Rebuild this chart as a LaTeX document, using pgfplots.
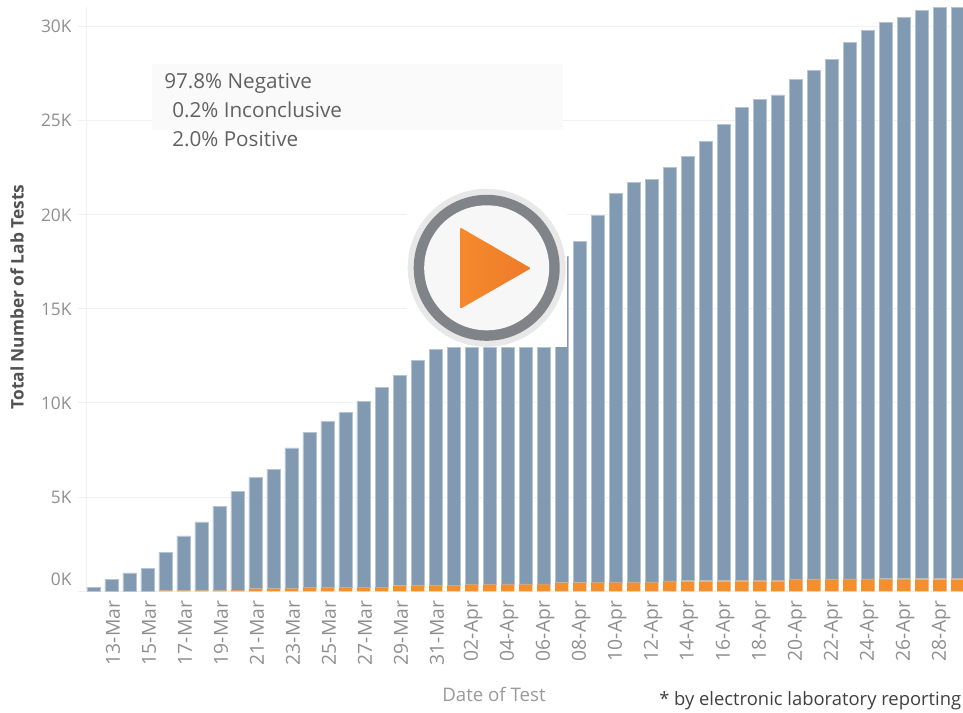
\documentclass[border=0pt]{standalone}
\usepackage{fontspec}
\usepackage{pgfplots}
\usepackage{pgfplotstable}
\pgfplotsset{compat=1.18}
\setmainfont{Open Sans}
\definecolor{neg}{HTML}{829AB1}
\definecolor{negedge}{HTML}{B4C4D2}
\definecolor{pos}{HTML}{F48F2E}
\definecolor{inc}{HTML}{C9AE8E}
\definecolor{gridc}{HTML}{F1F1F1}
\definecolor{tickc}{HTML}{8F8F8F}
\definecolor{halo}{HTML}{E8E8E8}
\definecolor{ring}{HTML}{808489}
\definecolor{disc}{HTML}{F7F7F7}
\definecolor{triA}{HTML}{F58A2C}
\definecolor{triB}{HTML}{EE7A2B}
\definecolor{boxc}{HTML}{FAFAFA}
% day: 0 = 12-Mar ... 48 = 29-Apr. 01..06-Apr are hidden above the overlay: the visible height is used.
\pgfplotstableread{
day pos inc neg
0 0 0 228
1 0 0 637
2 0 0 972
3 0 0 1205
4 35 15 2005
5 35 15 2888
6 40 15 3625
7 40 15 4442
8 50 15 5245
9 125 15 5910
10 130 15 6315
11 140 15 7455
12 190 20 8215
13 195 20 8795
14 195 20 9275
15 200 20 9850
16 200 25 10590
17 280 25 11145
18 285 25 11955
19 290 30 12515
20 295 30 12635
21 355 30 12575
22 355 30 12575
23 360 30 12570
24 360 30 12570
25 365 30 12565
26 440 35 17315
27 440 35 18095
28 445 40 19480
29 445 40 20635
30 450 45 21205
31 455 45 21360
32 510 45 21945
33 515 50 22515
34 515 50 23330
35 520 50 24230
36 525 50 25125
37 525 55 25530
38 530 55 25765
39 595 55 26520
40 600 55 27010
41 600 60 27570
42 605 60 28470
43 605 60 29125
44 610 60 29530
45 610 60 29795
46 615 60 30175
47 615 60 30325
48 620 60 30320
}\tests
\begin{document}
\begin{tikzpicture}[x=0.75pt,y=-0.75pt]
\useasboundingbox (0,0) rectangle (963,713);
\clip (0,0) rectangle (963,713);
\begin{axis}[
  at={(64.5pt,-443.475pt)}, anchor=south west,
  scale only axis, width=657.75pt, height=438.2pt,
  xmin=-0.428, xmax=48.29, ymin=0, ymax=31010,
  ybar stacked, bar width=10.1pt,
  axis x line=bottom, axis y line=left,
  axis line style={draw=gridc,line width=0.75pt,-},
  ytick={0,5000,10000,15000,20000,25000,30000},
  yticklabels={\smash{\raisebox{4.5pt}{0K}},5K,10K,15K,20K,25K,30K},
  xtick={1,3,...,47},
  xticklabels={13-Mar,15-Mar,17-Mar,19-Mar,21-Mar,23-Mar,25-Mar,27-Mar,29-Mar,31-Mar,02-Apr,04-Apr,06-Apr,08-Apr,10-Apr,12-Apr,14-Apr,16-Apr,18-Apr,20-Apr,22-Apr,24-Apr,26-Apr,28-Apr},
  ymajorgrids, grid style={draw=gridc,line width=0.75pt},
  y tick style={draw=gridc,line width=0.75pt},
  x tick style={draw=none},
  major tick length=6pt,
  tick align=outside,
  every tick label/.append style={text=tickc},
  xticklabel style={font=\fontsize{14.5pt}{16pt}\selectfont,rotate=90,anchor=east,inner sep=0pt,yshift=-1pt,xshift=-1pt},
  yticklabel style={font=\fontsize{13pt}{15pt}\selectfont,anchor=east,inner sep=0pt,xshift=-4.7pt,yshift=-0.4pt},
]
\addplot[draw=none,fill=pos] table[x=day,y=pos]{\tests};
\addplot[draw=none,fill=inc] table[x=day,y=inc]{\tests};
\addplot[draw=negedge,line width=0.3pt,fill=neg] table[x=day,y=neg]{\tests};
\end{axis}
% overlay
\fill[white] (407,205) rectangle (566.5,347.3);
\fill[boxc] (152,64) rectangle (563,130);
\fill[halo] (486.7,267.8) circle[radius=79];
\fill[ring] (486.7,267.8) circle[radius=73];
\fill[disc] (486.7,267.8) circle[radius=62.5];
\shade[left color=triA,right color=triB,rounded corners=1pt] (460,227.3) -- (531,268.3) -- (460,309) -- cycle;
\begin{scope}[every node/.style={inner sep=0pt,text=black!62,font=\fontsize{15.5pt}{17pt}\selectfont,anchor=base west}]
\node at (164,88.5) {97.8\% Negative};
\node at (172,117.5) {0.2\% Inconclusive};
\node at (172,146.5) {2.0\% Positive};
\end{scope}
\node[rotate=90,text=black!68,font=\fontsize{13pt}{15pt}\selectfont\bfseries,inner sep=0pt] at (17,297) {Total Number of Lab Tests};
\node[text=black!40,font=\fontsize{14pt}{16pt}\selectfont,inner sep=0pt] at (494,694) {Date of Test};
\node[text=black!75,font=\fontsize{13.8pt}{16pt}\selectfont,inner sep=0pt,anchor=west] at (659,700.5) {* by electronic laboratory reporting};
\end{tikzpicture}
\end{document}
